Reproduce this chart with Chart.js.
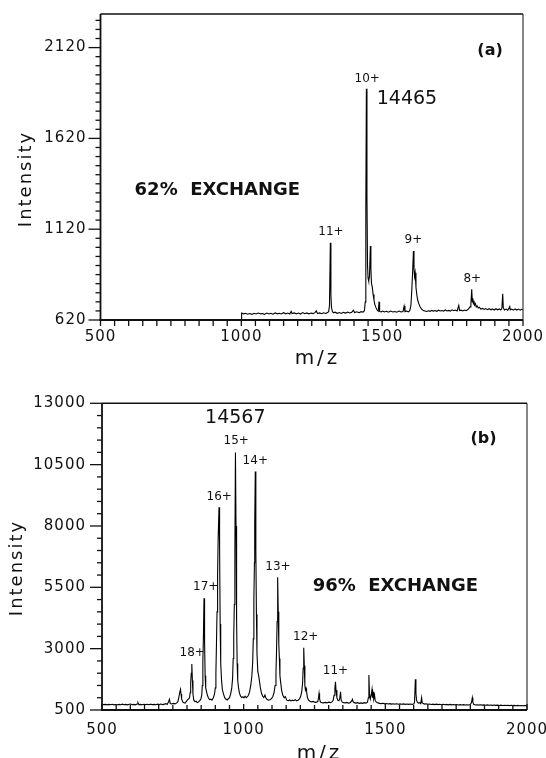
<!DOCTYPE html>
<html>
<head>
<meta charset="utf-8">
<script src="https://cdn.jsdelivr.net/npm/chart.js@4.4.1/dist/chart.umd.min.js"></script>
<style>
html, body { margin: 0; padding: 0; background: #fff; }
body { width: 546px; height: 758px; position: relative; overflow: hidden; }
.painel { position: absolute; left: 0; width: 546px; }
#painel-a { top: 0; height: 372px; }
#painel-b { top: 372px; height: 386px; }
</style>
</head>
<body>
<div class="painel" id="painel-a"><canvas id="chartA" width="546" height="372"></canvas></div>
<div class="painel" id="painel-b"><canvas id="chartB" width="546" height="386"></canvas></div>
<script>
// ================================================================
// ESPECTROS ESI — (a) 62% EXCHANGE / (b) 96% EXCHANGE
// ================================================================

// ── Espectro (a): m/z e intensidade ────────────────────────────
const mzA = [
    1000, 1001, 1008, 1015, 1022, 1030, 1038, 1045, 1052, 1060, 1068, 1075, 1082, 1090, 1098,
    1105, 1112, 1120, 1128, 1135, 1142, 1150, 1158, 1165, 1172, 1177, 1180, 1188, 1195, 1203,
    1210, 1218, 1225, 1232, 1240, 1248, 1255, 1262, 1266, 1270, 1278, 1285, 1292, 1300, 1306,
    1310, 1313, 1316, 1318, 1320, 1323, 1327, 1333, 1340, 1348, 1355, 1362, 1370, 1378, 1385,
    1392, 1398, 1402, 1410, 1418, 1425, 1432, 1437, 1440, 1442, 1444, 1446, 1448, 1450, 1452,
    1455, 1458, 1460, 1462, 1465, 1468, 1471, 1474, 1478, 1482, 1486, 1489, 1491, 1496, 1502,
    1508, 1515, 1522, 1530, 1538, 1545, 1552, 1560, 1567, 1574, 1578, 1581, 1587, 1593, 1598,
    1602, 1605, 1608, 1611, 1613, 1615, 1617, 1620, 1623, 1626, 1630, 1635, 1640, 1646, 1652,
    1658, 1664, 1670, 1676, 1682, 1688, 1694, 1700, 1706, 1712, 1718, 1724, 1730, 1736, 1742,
    1748, 1754, 1760, 1766, 1772, 1775, 1780, 1786, 1792, 1798, 1803, 1808, 1812, 1815, 1818,
    1820, 1822, 1824, 1826, 1828, 1831, 1834, 1837, 1841, 1845, 1850, 1856, 1862, 1868, 1874,
    1880, 1886, 1892, 1898, 1904, 1910, 1916, 1921, 1925, 1928, 1930, 1934, 1940, 1946, 1950,
    1953, 1955, 1960, 1966, 1972, 1978, 1984, 1990, 1995, 2000
];
const intA = [
    620, 658, 654, 657, 652, 656, 651, 657, 653, 658, 654, 656, 651, 658, 653,
    657, 652, 659, 654, 657, 653, 660, 654, 658, 653, 668, 655, 659, 654, 658,
    653, 661, 655, 659, 654, 658, 655, 662, 670, 656, 659, 655, 660, 656, 661,
    666, 700, 1045, 760, 690, 668, 660, 663, 657, 661, 656, 662, 658, 664, 659,
    663, 674, 661, 665, 660, 666, 663, 671, 720, 1250, 1893, 1300, 920, 850, 835,
    860, 1027, 900, 823, 800, 760, 730, 705, 688, 675, 668, 721, 667, 664, 669,
    664, 668, 663, 669, 664, 667, 663, 669, 664, 667, 697, 666, 669, 665, 671,
    700, 780, 880, 1000, 900, 860, 880, 800, 760, 730, 710, 692, 680, 672, 670,
    667, 671, 668, 673, 669, 672, 668, 674, 670, 672, 669, 675, 670, 673, 669,
    676, 671, 675, 670, 700, 672, 674, 670, 675, 671, 676, 684, 692, 710, 789,
    720, 740, 708, 725, 702, 710, 692, 698, 686, 690, 680, 684, 678, 683, 677,
    682, 676, 681, 675, 682, 676, 681, 675, 684, 765, 688, 675, 680, 674, 684,
    694, 676, 680, 674, 681, 675, 680, 674, 679, 676
];

// ── Espectro (b): m/z e intensidade ────────────────────────────
const mzB = [
    500, 506, 512, 518, 524, 530, 536, 542, 548, 554, 560, 566, 572, 578, 584,
    590, 596, 602, 606, 612, 618, 624, 627, 630, 636, 642, 648, 654, 660, 666,
    672, 678, 684, 690, 696, 702, 708, 714, 720, 726, 730, 735, 738, 741, 746,
    752, 758, 764, 768, 771, 774, 777, 779, 781, 785, 789, 793, 797, 801, 805,
    809, 811, 813, 815, 817, 819, 821, 824, 828, 832, 836, 840, 845, 849, 852,
    854, 856, 858, 860, 862, 864, 866, 869, 872, 876, 880, 884, 888, 893, 897,
    900, 902, 904, 906, 908, 910, 913, 915, 917, 919, 922, 925, 929, 933, 937,
    942, 946, 950, 954, 958, 961, 963, 965, 967, 969, 971, 973, 975, 977, 979,
    982, 985, 989, 993, 997, 1001, 1005, 1009, 1013, 1017, 1021, 1025, 1029, 1032, 1034,
    1036, 1038, 1039, 1041, 1043, 1045, 1047, 1050, 1053, 1056, 1059, 1063, 1067, 1071, 1075,
    1078, 1083, 1088, 1093, 1098, 1103, 1107, 1111, 1114, 1116, 1118, 1120, 1122, 1124, 1126,
    1128, 1131, 1134, 1138, 1143, 1147, 1152, 1157, 1162, 1167, 1172, 1177, 1182, 1187, 1192,
    1197, 1201, 1205, 1208, 1210, 1212, 1214, 1216, 1218, 1220, 1222, 1225, 1229, 1234, 1240,
    1246, 1252, 1258, 1262, 1264, 1266, 1268, 1271, 1276, 1282, 1288, 1294, 1300, 1306, 1312,
    1316, 1319, 1322, 1324, 1326, 1329, 1332, 1336, 1339, 1342, 1344, 1348, 1353, 1358, 1364,
    1370, 1376, 1380, 1384, 1386, 1390, 1396, 1402, 1408, 1414, 1420, 1426, 1432, 1437, 1440,
    1442, 1444, 1447, 1450, 1453, 1455, 1457, 1459, 1462, 1464, 1468, 1474, 1480, 1486, 1492,
    1498, 1504, 1510, 1516, 1522, 1528, 1534, 1540, 1546, 1552, 1558, 1564, 1570, 1576, 1582,
    1588, 1594, 1600, 1603, 1606, 1608, 1610, 1613, 1617, 1621, 1625, 1628, 1630, 1634, 1638,
    1644, 1650, 1656, 1662, 1668, 1674, 1680, 1686, 1692, 1698, 1704, 1710, 1716, 1722, 1728,
    1734, 1740, 1746, 1752, 1758, 1764, 1770, 1776, 1782, 1788, 1794, 1800, 1804, 1807, 1809,
    1812, 1818, 1824, 1830, 1836, 1842, 1848, 1854, 1860, 1866, 1872, 1878, 1884, 1890, 1896,
    1902, 1908, 1914, 1920, 1926, 1932, 1938, 1944, 1950, 1956, 1962, 1968, 1974, 1980, 1986,
    1992, 2000
];
const intB = [
    735, 718, 730, 712, 728, 715, 732, 710, 725, 716, 730, 712, 738, 715, 728,
    710, 735, 740, 716, 730, 712, 745, 800, 720, 728, 712, 735, 718, 732, 714,
    740, 718, 730, 712, 738, 720, 745, 722, 740, 760, 728, 840, 936, 760, 745,
    770, 750, 790, 850, 1000, 1200, 1344, 1150, 950, 830, 800, 780, 840, 900, 940,
    1000, 1200, 1600, 2000, 2376, 1700, 1150, 900, 840, 860, 800, 820, 880, 950, 1100,
    1500, 2500, 3500, 5055, 3300, 1900, 1400, 1250, 1100, 980, 920, 940, 900, 1000, 1150,
    1400, 2000, 3200, 4500, 6000, 7500, 8766, 7200, 4000, 2400, 1700, 1320, 1150, 1000, 950,
    910, 960, 1000, 1150, 1400, 1800, 2600, 3500, 4800, 7000, 10993, 8000, 4200, 2400, 1700,
    1400, 1200, 1060, 1010, 1040, 990, 1060, 1000, 1050, 1100, 1250, 1500, 1900, 2500, 3400,
    5000, 6500, 8000, 10218, 7000, 4400, 2800, 2062, 1900, 1654, 1400, 1180, 1060, 1010, 1113,
    1000, 930, 900, 920, 960, 1050, 1200, 1500, 2000, 2900, 4100, 5911, 4500, 3200, 2600,
    1900, 1587, 1300, 1113, 1000, 1044, 900, 880, 910, 870, 900, 880, 920, 870, 900,
    950, 1050, 1250, 1600, 2200, 3041, 2300, 1500, 1316, 1385, 1250, 1010, 900, 860, 830,
    850, 810, 820, 850, 1000, 1180, 950, 820, 800, 790, 810, 790, 820, 800, 830,
    900, 1100, 1400, 1654, 1300, 1000, 900, 880, 960, 1246, 900, 820, 800, 790, 810,
    780, 800, 850, 936, 840, 800, 780, 800, 770, 790, 770, 800, 780, 820, 1000,
    1927, 1180, 950, 1100, 1344, 1000, 1246, 950, 1100, 900, 820, 790, 770, 760, 775,
    750, 765, 745, 760, 740, 755, 738, 752, 735, 750, 732, 748, 730, 745, 728,
    742, 730, 745, 800, 1752, 1200, 908, 820, 780, 800, 760, 1000, 800, 760, 740,
    755, 730, 745, 725, 740, 720, 738, 718, 735, 715, 732, 712, 730, 710, 728,
    708, 725, 710, 722, 705, 720, 706, 718, 702, 715, 704, 720, 800, 1002, 820,
    730, 705, 716, 700, 712, 698, 710, 695, 708, 694, 705, 690, 702, 688, 700,
    686, 698, 684, 696, 682, 694, 680, 692, 678, 690, 676, 688, 675, 686, 674,
    685, 680
];

// ── Eixos: rótulos principais ──────────────────────────────────
const xMajor  = [500, 1000, 1500, 2000];
const yMajorA = [620, 1120, 1620, 2120];
const yMajorB = [500, 3000, 5500, 8000, 10500, 13000];

const COR   = '#111';
const FONTE = '"DejaVu Sans", "Liberation Sans", sans-serif';

function passos(ini, fim, passo) {
    const v = [];
    for (let k = ini; k <= fim + 1e-9; k += passo) v.push(k);
    return v;
}

// ── Plugin: moldura, marcas de escala, títulos e anotações ─────
const molduraPlugin = {
    id: 'moldura',
    beforeDraw(chart) { chart.ctx.letterSpacing = '1px'; },
    afterDraw(chart, args, opts) {
        const { ctx, chartArea: a, scales } = chart;
        const sx = scales.x, sy = scales.y;
        ctx.save();
        ctx.strokeStyle = COR;
        ctx.lineCap = 'butt';

        const seg = (x1, y1, x2, y2, w) => {
            ctx.lineWidth = w;
            ctx.beginPath(); ctx.moveTo(x1, y1); ctx.lineTo(x2, y2); ctx.stroke();
        };

        // moldura
        seg(a.left, a.top, a.left, a.bottom + 1, 1.8);
        seg(a.left - 1, a.bottom, a.right, a.bottom, 1.8);
        seg(a.left, a.top, a.right, a.top, 1.6);
        seg(a.right, a.top, a.right, a.bottom, 1);

        // marcas do eixo x
        const dir = opts.xDentro ? -1 : 1;
        sx.ticks.forEach(t => {
            const px = sx.getPixelForValue(t.value);
            const len = xMajor.includes(t.value) ? opts.xMaior : opts.xMenor;
            seg(px, a.bottom, px, a.bottom + dir * len, 1.3);
        });
        // marcas do eixo y
        sy.ticks.forEach(t => {
            const py = sy.getPixelForValue(t.value);
            const len = opts.yMaiores.includes(t.value) ? opts.yMaior : opts.yMenor;
            seg(a.left - len, py, a.left, py, 1.3);
        });

        ctx.fillStyle = COR;
        ctx.textBaseline = 'middle';

        // títulos dos eixos
        ctx.font = '18px ' + FONTE;
        ctx.letterSpacing = '2px';
        ctx.textAlign = 'center';
        ctx.save();
        ctx.translate(opts.tituloY.x, opts.tituloY.y);
        ctx.rotate(-Math.PI / 2);
        ctx.fillText('Intensity', 0, 0);
        ctx.restore();
        ctx.font = '20px ' + FONTE;
        ctx.letterSpacing = '3px';
        ctx.fillText('m/z', opts.tituloX.x, opts.tituloX.y);

        // anotações no espaço dos dados
        ctx.letterSpacing = '0px';
        opts.textos.forEach(n => {
            ctx.font = n.fonte;
            ctx.textAlign = n.alinhar || 'center';
            ctx.fillText(n.t, sx.getPixelForValue(n.mz), sy.getPixelForValue(n.i));
        });
        ctx.restore();
    }
};

function montarGrafico(canvasId, mz, inten, cfg) {
    const pontos = mz.map((m, k) => ({ x: m, y: inten[k] }));
    return new Chart(document.getElementById(canvasId), {
        type: 'line',
        data: {
            datasets: [{
                data: pontos,
                borderColor: '#000',
                borderWidth: 1.1,
                pointRadius: 0,
                tension: 0,
                fill: false
            }]
        },
        options: {
            responsive: false,
            animation: false,
            events: [],
            layout: { padding: cfg.padding },
            plugins: {
                legend: { display: false },
                tooltip: { enabled: false },
                moldura: cfg.moldura
            },
            scales: {
                x: {
                    type: 'linear',
                    min: 500, max: 2000,
                    grid: { display: false, drawTicks: false },
                    border: { display: false },
                    afterBuildTicks: s => { s.ticks = passos(500, 2000, 50).map(v => ({ value: v })); },
                    afterFit: s => {
                        s.height = cfg.alturaX;
                        s.paddingLeft = 0; s.paddingRight = 0;
                    },
                    ticks: {
                        autoSkip: false,
                        maxRotation: 0,
                        padding: cfg.padX,
                        color: COR,
                        font: { family: FONTE, size: 15 },
                        callback: v => xMajor.includes(v) ? String(v) : ''
                    }
                },
                y: {
                    type: 'linear',
                    min: cfg.yMin, max: cfg.yMax,
                    grid: { display: false, drawTicks: false },
                    border: { display: false },
                    afterBuildTicks: s => { s.ticks = cfg.yTicks.map(v => ({ value: v })); },
                    afterFit: s => {
                        s.width = cfg.larguraY;
                        s.paddingTop = 0; s.paddingBottom = 0;
                    },
                    ticks: {
                        autoSkip: false,
                        padding: cfg.padY,
                        color: COR,
                        font: { family: FONTE, size: 15 },
                        callback: v => cfg.yMaiores.includes(v) ? String(v) : ''
                    }
                }
            }
        },
        plugins: [molduraPlugin]
    });
}

// ── Gráfico (a) ────────────────────────────────────────────────
montarGrafico('chartA', mzA, intA, {
    padding: { left: 0, top: 14, right: 23, bottom: 0 },
    larguraY: 100.5, alturaX: 52, padX: 8, padY: 14,
    yMin: 620, yMax: 2305,
    yTicks: passos(620, 2270, 50),
    yMaiores: yMajorA,
    moldura: {
        xDentro: false, xMaior: 6, xMenor: 6, yMaior: 12, yMenor: 5,
        yMaiores: yMajorA,
        tituloY: { x: 26.7, y: 179 },
        tituloX: { x: 317.5, y: 358.3 },
        textos: [
            { t: '10+',   mz: 1447, i: 1947, fonte: '12px ' + FONTE },
            { t: '14465', mz: 1588, i: 1837, fonte: '19px ' + FONTE },
            { t: '(a)',   mz: 1883, i: 2102, fonte: 'bold 16px ' + FONTE },
            { t: '62%  EXCHANGE', mz: 621, i: 1334, fonte: 'bold 18px ' + FONTE, alinhar: 'left' },
            { t: '11+',   mz: 1318, i: 1105, fonte: '12px ' + FONTE },
            { t: '9+',    mz: 1611, i: 1059, fonte: '12px ' + FONTE },
            { t: '8+',    mz: 1820, i: 849,  fonte: '12px ' + FONTE }
        ]
    }
});

// ── Gráfico (b) ────────────────────────────────────────────────
montarGrafico('chartB', mzB, intB, {
    padding: { left: 0, top: 31.3, right: 19, bottom: 0 },
    larguraY: 102, alturaX: 48, padX: 11, padY: 16,
    yMin: 500, yMax: 13000,
    yTicks: passos(500, 13000, 500),
    yMaiores: yMajorB,
    moldura: {
        xDentro: true, xMaior: 6, xMenor: 5, yMaior: 12, yMenor: 5,
        yMaiores: yMajorB,
        tituloY: { x: 17.5, y: 196 },
        tituloX: { x: 319.5, y: 382 },
        textos: [
            { t: '14567', mz: 970.5, i: 12389, fonte: '19px ' + FONTE },
            { t: '15+',   mz: 973.7, i: 11476, fonte: '12px ' + FONTE },
            { t: '14+',   mz: 1041,  i: 10661, fonte: '12px ' + FONTE },
            { t: '16+',   mz: 913.6, i: 9181,  fonte: '12px ' + FONTE },
            { t: '13+',   mz: 1121,  i: 6340,  fonte: '12px ' + FONTE },
            { t: '17+',   mz: 866,   i: 5525,  fonte: '12px ' + FONTE },
            { t: '12+',   mz: 1219,  i: 3487,  fonte: '12px ' + FONTE },
            { t: '18+',   mz: 818.5, i: 2811,  fonte: '12px ' + FONTE },
            { t: '11+',   mz: 1324,  i: 2102,  fonte: '12px ' + FONTE },
            { t: '(b)',   mz: 1846.5, i: 11533, fonte: 'bold 16px ' + FONTE },
            { t: '96%  EXCHANGE', mz: 1243.5, i: 5554, fonte: 'bold 18px ' + FONTE, alinhar: 'left' }
        ]
    }
});
</script>
</body>
</html>
